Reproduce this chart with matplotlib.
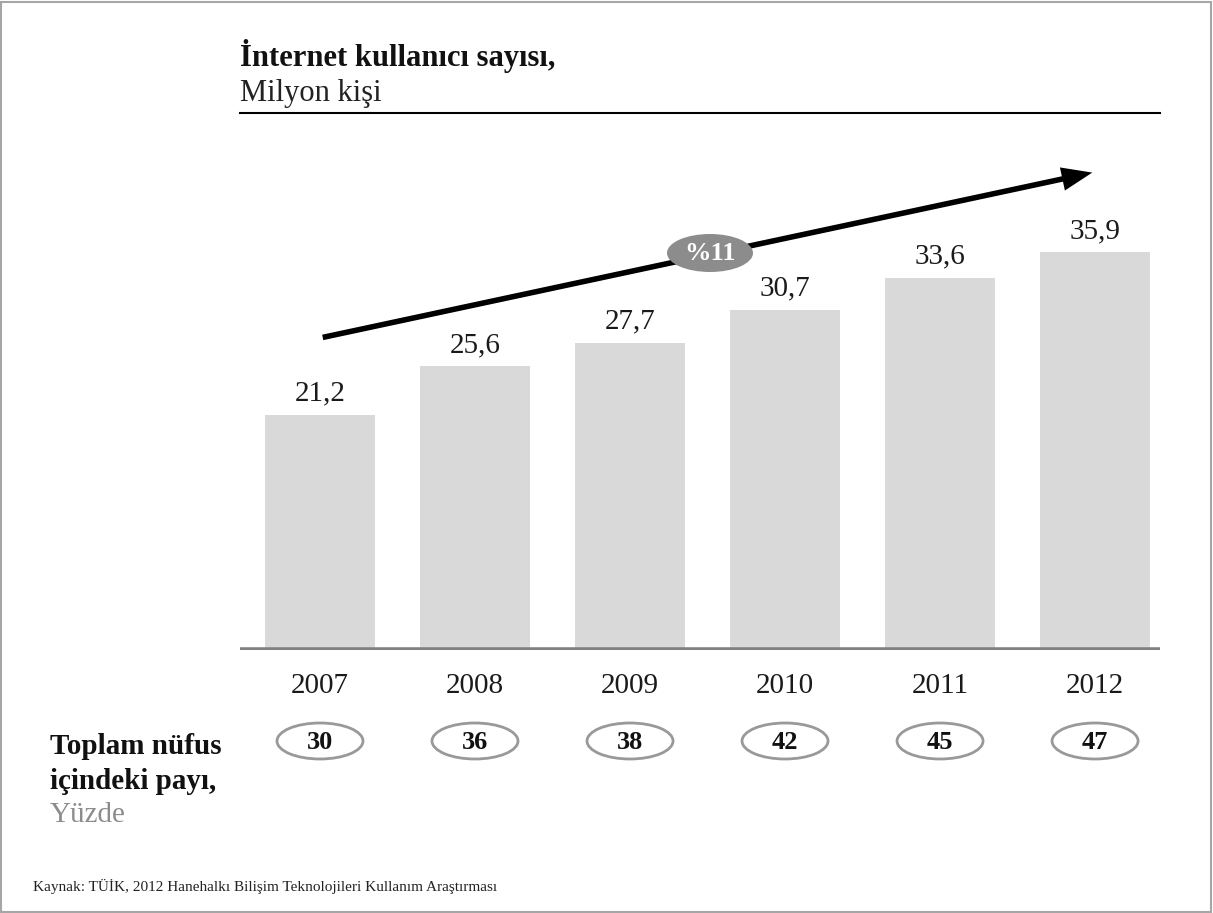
import matplotlib
matplotlib.use("Agg")
import matplotlib.pyplot as plt
from matplotlib.patches import Ellipse, FancyArrowPatch, Rectangle
from matplotlib.transforms import blended_transform_factory

years = ["2007", "2008", "2009", "2010", "2011", "2012"]
users = [21.2, 25.6, 27.7, 30.7, 33.6, 35.9]
share = [30, 36, 38, 42, 45, 47]
user_labels = ["21,2", "25,6", "27,7", "30,7", "33,6", "35,9"]

W, H = 1213, 913
plt.rcParams['font.family'] = ['Liberation Serif', 'DejaVu Serif']

fig = plt.figure(figsize=(W / 100, H / 100), dpi=100)
fig.patch.set_facecolor('white')


def fy(py):
    # pixel row (from top) -> figure fraction
    return 1 - py / H


def fx(px):
    return px / W


# outer frame
fig.patches.append(Rectangle((fx(1), fy(912)), fx(1210), (910) / H,
                             transform=fig.transFigure, fill=False,
                             edgecolor='#a6a6a6', lw=1.5))

ax = fig.add_axes([fx(240), fy(650), fx(920), 530 / H])
x = list(range(len(years)))
ax.bar(x, users, width=0.71, color='#d9d9d9', zorder=1)
ax.axhline(0, color='#808080', lw=4, zorder=2)
ax.set_xlim(-0.516, 5.419)
ax.set_ylim(0, 530 / 11.08)
ax.axis('off')

for i, v in enumerate(users):
    ax.annotate(user_labels[i], (i, v), xytext=(0, 6), textcoords='offset points',
                ha='center', va='bottom', fontsize=21, color='#1a1a1a')

# title
fig.text(fx(240), fy(56), "İnternet kullanıcı sayısı,", fontsize=22,
         fontweight='bold', ha='left', va='center', color='#111111')
fig.text(fx(240), fy(94), "Milyon kişi", fontsize=22,
         ha='left', va='center', color='#222222')
fig.add_artist(plt.Line2D([fx(240), fx(1160)], [fy(113), fy(113)],
                          transform=fig.transFigure, color='black', lw=1.5))

# growth arrow
arr = FancyArrowPatch((fx(320), fy(338)), (fx(1095), fy(172)),
                      transform=fig.transFigure,
                      arrowstyle='simple,head_length=1.1,head_width=0.85,tail_width=0.2',
                      mutation_scale=20, lw=0, color='black')
fig.patches.append(arr)
fig.patches.append(Ellipse((fx(710), fy(253)), 86 / W, 38 / H,
                           transform=fig.transFigure, facecolor='#8c8c8c',
                           edgecolor='none', zorder=5))
fig.text(fx(710), fy(254), "%11", fontsize=19, fontweight='bold',
         color='white', ha='center', va='center', zorder=6)

# year labels and share row
tr = blended_transform_factory(ax.transData, fig.transFigure)
for i, yr in enumerate(years):
    ax.text(i, fy(686), yr, transform=tr, ha='center', va='center',
            fontsize=21, color='#1a1a1a', clip_on=False)
    ax.add_patch(Ellipse((i, fy(741)), 86 / 155, 36 / H, transform=tr,
                         facecolor='white', edgecolor='#999999', lw=2,
                         clip_on=False))
    ax.text(i, fy(742), str(share[i]), transform=tr, ha='center', va='center',
            fontsize=19, fontweight='bold', color='#111111', clip_on=False)

fig.text(fx(50), fy(746), "Toplam nüfus", fontsize=21, fontweight='bold',
         ha='left', va='center', color='#111111')
fig.text(fx(50), fy(781), "içindeki payı,", fontsize=21, fontweight='bold',
         ha='left', va='center', color='#111111')
fig.text(fx(50), fy(815), "Yüzde", fontsize=21, ha='left', va='center',
         color='#8c8c8c')

fig.text(fx(33), fy(886), "Kaynak: TÜİK, 2012 Hanehalkı Bilişim Teknolojileri Kullanım Araştırması",
         fontsize=11, ha='left', va='center', color='#222222')

fig.savefig("out.png", dpi=100, facecolor='white')
